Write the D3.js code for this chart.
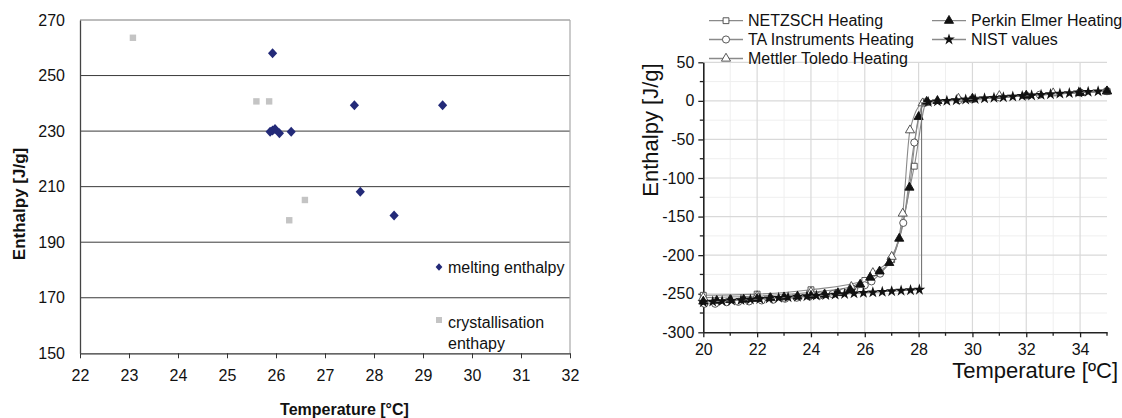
<!DOCTYPE html>
<html><head><meta charset="utf-8">
<script src="https://cdn.jsdelivr.net/npm/d3@7"></script>
<style>
body{margin:0;background:#fff;}
svg text{font-family:"Liberation Sans",Arial,sans-serif;}
</style></head>
<body>
<svg id="c" width="1122" height="418"></svg>
<script>
// ---------- LEFT CHART DATA ----------
const meltT = [25.93, 25.88, 25.93, 25.98, 26.07, 26.31, 27.60, 29.40, 27.72, 28.41];
const meltH = [258.0, 229.8, 230.2, 230.8, 229.2, 229.8, 239.3, 239.3, 208.2, 199.6];
const crystT = [23.08, 25.60, 25.86, 26.59, 26.27];
const crystH = [263.6, 240.7, 240.7, 205.2, 197.9];
const leftXTicks = [22, 23, 24, 25, 26, 27, 28, 29, 30, 31, 32];
const leftYTicks = [150, 170, 190, 210, 230, 250, 270];
const leftLegend = ["melting enthalpy", ["crystallisation", "enthapy"]];

// ---------- RIGHT CHART DATA ----------
const netzschT = [20, 22, 24, 26, 27, 27.84, 28.3, 30, 32, 34, 35];
const netzschH = [-252, -250.5, -244.8, -232.8, -205.9, -84.7, -2, 2, 6.5, 10.5, 12.5];
const taT = [20.04, 20.44, 20.87, 21.3, 21.7, 22.17, 22.6, 23.04, 23.47, 23.94, 24.34, 24.8, 25.2, 25.6, 26.0, 26.25, 26.57, 26.97, 27.43, 27.84, 28.2, 29.5, 31, 32.5, 34, 35];
const taH = [-263, -263, -261, -260.5, -260, -258.7, -257.8, -256.5, -255.2, -253.5, -252.2, -250.5, -248, -244.5, -239, -234, -224, -205.7, -158.2, -54, -2, 1, 4.5, 8, 11, 12.5];
const mettlerT = [20, 22, 24, 25.5, 26.3, 27.0, 27.41, 27.68, 28.15, 29.48, 31, 33, 35];
const mettlerH = [-255, -253, -248, -241, -223, -202, -146, -38, -3, 3, 6.5, 10, 12.5];
const perkinT = [20.0, 20.5, 21.0, 21.5, 22.0, 22.5, 23.0, 23.5, 24.0, 24.5, 25.0, 25.46, 25.83, 26.2, 26.55, 26.91, 27.28, 27.66, 28.0, 28.3, 28.7, 30, 32, 34, 35];
const perkinH = [-260, -259, -258, -257.5, -256.5, -255.5, -254.5, -253.5, -252.5, -251, -249, -245, -238, -229, -221, -210, -178.5, -112.3, -20.7, -1, 0, 3, 7, 10.5, 12.5];
const nistSolidT = [20.0, 20.35, 20.7, 21.05, 21.4, 21.75, 22.1, 22.45, 22.8, 23.15, 23.5, 23.85, 24.2, 24.55, 24.9, 25.25, 25.6, 25.95, 26.3, 26.65, 27.0, 27.35, 27.7, 28.03];
const nistSolidH = [-261, -260.3, -259.6, -258.9, -258.2, -257.5, -256.8, -256.1, -255.4, -254.6, -253.9, -253.2, -252.5, -251.8, -251.1, -250.4, -249.6, -248.9, -248.2, -247.5, -246.8, -246.1, -245.4, -244.8];
const nistMeltT = 28.11;
const nistLiquidT = [28.36, 28.7, 29.05, 29.4, 29.75, 30.1, 30.45, 30.8, 31.15, 31.5, 31.85, 32.2, 32.55, 32.9, 33.25, 33.6, 33.95, 34.3, 34.67];
const nistLiquidH = [-1.5, -0.7, 0.1, 0.9, 1.6, 2.4, 3.2, 4.0, 4.7, 5.5, 6.3, 7.0, 7.8, 8.6, 9.4, 10.1, 10.9, 11.7, 12.3];
const rightXTicks = [20, 22, 24, 26, 28, 30, 32, 34];
const rightYTicks = [-300, -250, -200, -150, -100, -50, 0, 50];
const seriesNames = ["NETZSCH Heating", "TA Instruments Heating", "Mettler Toledo Heating", "Perkin Elmer Heating", "NIST values"];

const svg = d3.select("#c");

// ================= LEFT CHART =================
const xL = d3.scaleLinear().domain([22, 32]).range([80, 570]);
const yL = d3.scaleLinear().domain([150, 270]).range([353.3, 20]);
const gL = svg.append("g");

gL.selectAll("line.grid").data(leftYTicks.filter(v => v > 150)).join("line")
  .attr("x1", xL(22)).attr("x2", xL(32)).attr("y1", d => yL(d)).attr("y2", d => yL(d))
  .attr("stroke", d => d === 270 ? "#7a7a7a" : "#3a3a3a").attr("stroke-width", 1);
gL.append("line").attr("x1", xL(32)).attr("x2", xL(32)).attr("y1", yL(270)).attr("y2", yL(150))
  .attr("stroke", "#a8a8a8").attr("stroke-width", 1.2);

const axL = gL.append("g").attr("transform", `translate(0,${yL(150)})`)
  .call(d3.axisBottom(xL).tickValues(leftXTicks).tickFormat(d => String(d)).tickSize(5).tickPadding(11).tickSizeOuter(0));
axL.select(".domain").attr("stroke", "#333").attr("stroke-width", 1.3);
axL.selectAll(".tick line").attr("stroke", "#333");
axL.selectAll("text").attr("font-size", 16).attr("fill", "#111").attr("font-family", "Liberation Sans, Arial");

const ayL = gL.append("g").attr("transform", `translate(${xL(22)},0)`)
  .call(d3.axisLeft(yL).tickValues(leftYTicks).tickFormat(d => String(d)).tickSize(0).tickPadding(15).tickSizeOuter(0));
ayL.select(".domain").attr("stroke", "#444").attr("stroke-width", 1.3);
ayL.selectAll("text").attr("font-size", 16).attr("fill", "#111").attr("font-family", "Liberation Sans, Arial");

const diamond = (cx, cy, rw, rh) => `M${cx},${cy - rh}L${cx + rw},${cy}L${cx},${cy + rh}L${cx - rw},${cy}Z`;

gL.selectAll("rect.cr").data(crystT).join("rect")
  .attr("x", (d, i) => xL(d) - 3.2).attr("y", (d, i) => yL(crystH[i]) - 3.2)
  .attr("width", 6.4).attr("height", 6.4).attr("fill", "#c4c4c4");
gL.selectAll("path.me").data(meltT).join("path")
  .attr("d", (d, i) => diamond(xL(d), yL(meltH[i]), 4.6, 5))
  .attr("fill", "#232a78");

gL.append("path").attr("d", diamond(439, 267, 3.4, 3.8)).attr("fill", "#232a78");
gL.append("text").attr("x", 448).attr("y", 273).attr("font-size", 16).attr("fill", "#111").text(leftLegend[0]);
gL.append("rect").attr("x", 436).attr("y", 317).attr("width", 6).attr("height", 6).attr("fill", "#c4c4c4");
gL.append("text").attr("x", 448).attr("y", 328).attr("font-size", 16).attr("fill", "#111").text(leftLegend[1][0]);
gL.append("text").attr("x", 448).attr("y", 348.5).attr("font-size", 16).attr("fill", "#111").text(leftLegend[1][1]);

gL.append("text").attr("x", 344.5).attr("y", 415).attr("text-anchor", "middle")
  .attr("font-size", 16).attr("font-weight", "bold").attr("fill", "#111").text("Temperature [°C]");
gL.append("text").attr("transform", "translate(25,204) rotate(-90)").attr("text-anchor", "middle")
  .attr("font-size", 17).attr("font-weight", "bold").attr("fill", "#111").text("Enthalpy [J/g]");

// ================= RIGHT CHART =================
const xR = d3.scaleLinear().domain([20, 35]).range([703.3, 1107]);
const yR = d3.scaleLinear().domain([-300, 50]).range([332.3, 62.3]);
const gR = svg.append("g");

gR.selectAll("line.vmin").data(d3.range(21, 35, 2)).join("line")
  .attr("x1", d => xR(d)).attr("x2", d => xR(d)).attr("y1", yR(-300)).attr("y2", yR(50))
  .attr("stroke", "#efefef").attr("stroke-width", 1);
gR.selectAll("line.hmin").data(d3.range(-275, 50, 50)).join("line")
  .attr("y1", d => yR(d)).attr("y2", d => yR(d)).attr("x1", xR(20)).attr("x2", xR(35))
  .attr("stroke", "#efefef").attr("stroke-width", 1);
gR.selectAll("line.vmaj").data(rightXTicks.filter(d => d > 20)).join("line")
  .attr("x1", d => xR(d)).attr("x2", d => xR(d)).attr("y1", yR(-300)).attr("y2", yR(50))
  .attr("stroke", "#d9d9d9").attr("stroke-width", 1.2);
gR.selectAll("line.hmaj").data(rightYTicks.filter(d => d > -300)).join("line")
  .attr("y1", d => yR(d)).attr("y2", d => yR(d)).attr("x1", xR(20)).attr("x2", xR(35))
  .attr("stroke", "#d9d9d9").attr("stroke-width", 1.2);

const axR = gR.append("g").attr("transform", `translate(0,${yR(-300)})`)
  .call(d3.axisBottom(xR).tickValues(rightXTicks).tickFormat(d => String(d)).tickSize(5).tickPadding(6).tickSizeOuter(0));
axR.append("g").selectAll("line").data(d3.range(21, 36, 2)).join("line")
  .attr("x1", d => xR(d)).attr("x2", d => xR(d)).attr("y1", 0).attr("y2", 3.5).attr("stroke", "#222").attr("stroke-width", 1.3);
axR.select(".domain").attr("stroke", "#222").attr("stroke-width", 1.6);
axR.selectAll(".tick line").attr("stroke", "#222").attr("stroke-width", 1.3);
axR.selectAll("text").attr("font-size", 16).attr("fill", "#111").attr("font-family", "Liberation Sans, Arial");

const ayR = gR.append("g").attr("transform", `translate(${xR(20)},0)`)
  .call(d3.axisLeft(yR).tickValues(rightYTicks).tickFormat(d => String(d)).tickSize(5).tickPadding(4).tickSizeOuter(0));
ayR.append("g").selectAll("line").data(d3.range(-275, 50, 50)).join("line")
  .attr("y1", d => yR(d)).attr("y2", d => yR(d)).attr("x1", 0).attr("x2", -3.5).attr("stroke", "#222").attr("stroke-width", 1.3);
ayR.select(".domain").attr("stroke", "#222").attr("stroke-width", 1.6);
ayR.selectAll(".tick line").attr("stroke", "#222").attr("stroke-width", 1.3);
ayR.selectAll("text").attr("font-size", 16).attr("fill", "#111").attr("font-family", "Liberation Sans, Arial");

const sym = {
  square: d3.symbol().type(d3.symbolSquare).size(34),
  circle: d3.symbol().type(d3.symbolCircle).size(40),
  triangle: d3.symbol().type(d3.symbolTriangle).size(36),
  star: d3.symbol().type(d3.symbolStar).size(42)
};
const series = [
  {T: netzschT, H: netzschH, shape: "square", fill: "#fff", stroke: "#444"},
  {T: taT, H: taH, shape: "circle", fill: "#fff", stroke: "#444"},
  {T: mettlerT, H: mettlerH, shape: "triangle", fill: "#fff", stroke: "#444"},
  {T: perkinT, H: perkinH, shape: "triangle", fill: "#111", stroke: "#111"}
];
const line = d3.line().x(d => xR(d[0])).y(d => yR(d[1])).curve(d3.curveMonotoneX);
const lineLin = d3.line().x(d => xR(d[0])).y(d => yR(d[1]));

series.forEach(s => {
  const pts = s.T.map((t, i) => [t, s.H[i]]);
  gR.append("path").attr("d", line(pts)).attr("fill", "none").attr("stroke", "#8a8a8a").attr("stroke-width", 1.1);
});
series.forEach(s => {
  const pts = s.T.map((t, i) => [t, s.H[i]]);
  gR.append("g").selectAll("path").data(pts).join("path")
    .attr("transform", d => `translate(${xR(d[0])},${yR(d[1])})`)
    .attr("d", sym[s.shape]()).attr("fill", s.fill).attr("stroke", s.stroke).attr("stroke-width", 0.9);
});
const nistSolid = nistSolidT.map((t, i) => [t, nistSolidH[i]]);
const nistLiquid = nistLiquidT.map((t, i) => [t, nistLiquidH[i]]);
const nistPath = nistSolid.concat([[nistMeltT, nistSolidH[nistSolidH.length - 1]], [nistMeltT, nistLiquidH[0] - 1]], nistLiquid);
gR.append("path").attr("d", lineLin(nistPath)).attr("fill", "none").attr("stroke", "#777").attr("stroke-width", 1.1);
gR.append("g").selectAll("path").data(nistSolid.concat(nistLiquid)).join("path")
  .attr("transform", d => `translate(${xR(d[0])},${yR(d[1])})`)
  .attr("d", sym.star()).attr("fill", "#111");

const legItems = [
  {name: seriesNames[0], shape: "square", fill: "#fff", stroke: "#444", x: 709, y: 20.7},
  {name: seriesNames[1], shape: "circle", fill: "#fff", stroke: "#444", x: 709, y: 39.5},
  {name: seriesNames[2], shape: "triangle", fill: "#fff", stroke: "#444", x: 709, y: 58.5},
  {name: seriesNames[3], shape: "triangle", fill: "#111", stroke: "#111", x: 932, y: 20.7},
  {name: seriesNames[4], shape: "star", fill: "#111", stroke: "none", x: 932, y: 39.5}
];
legItems.forEach(it => {
  gR.append("line").attr("x1", it.x).attr("x2", it.x + 34).attr("y1", it.y).attr("y2", it.y)
    .attr("stroke", "#8a8a8a").attr("stroke-width", 1.3);
  gR.append("path").attr("transform", `translate(${it.x + 17},${it.y})`).attr("d", sym[it.shape]())
    .attr("fill", it.fill).attr("stroke", it.stroke).attr("stroke-width", 0.9);
  gR.append("text").attr("x", it.x + 39).attr("y", it.y + 5.7).attr("font-size", 16).attr("fill", "#111").text(it.name);
});

gR.append("text").attr("x", 1118).attr("y", 378).attr("text-anchor", "end")
  .attr("font-size", 22).attr("fill", "#111").text("Temperature [ºC]");
gR.append("text").attr("transform", "translate(658,130) rotate(-90)").attr("text-anchor", "middle")
  .attr("font-size", 22).attr("fill", "#111").text("Enthalpy [J/g]");
</script>
</body></html>
